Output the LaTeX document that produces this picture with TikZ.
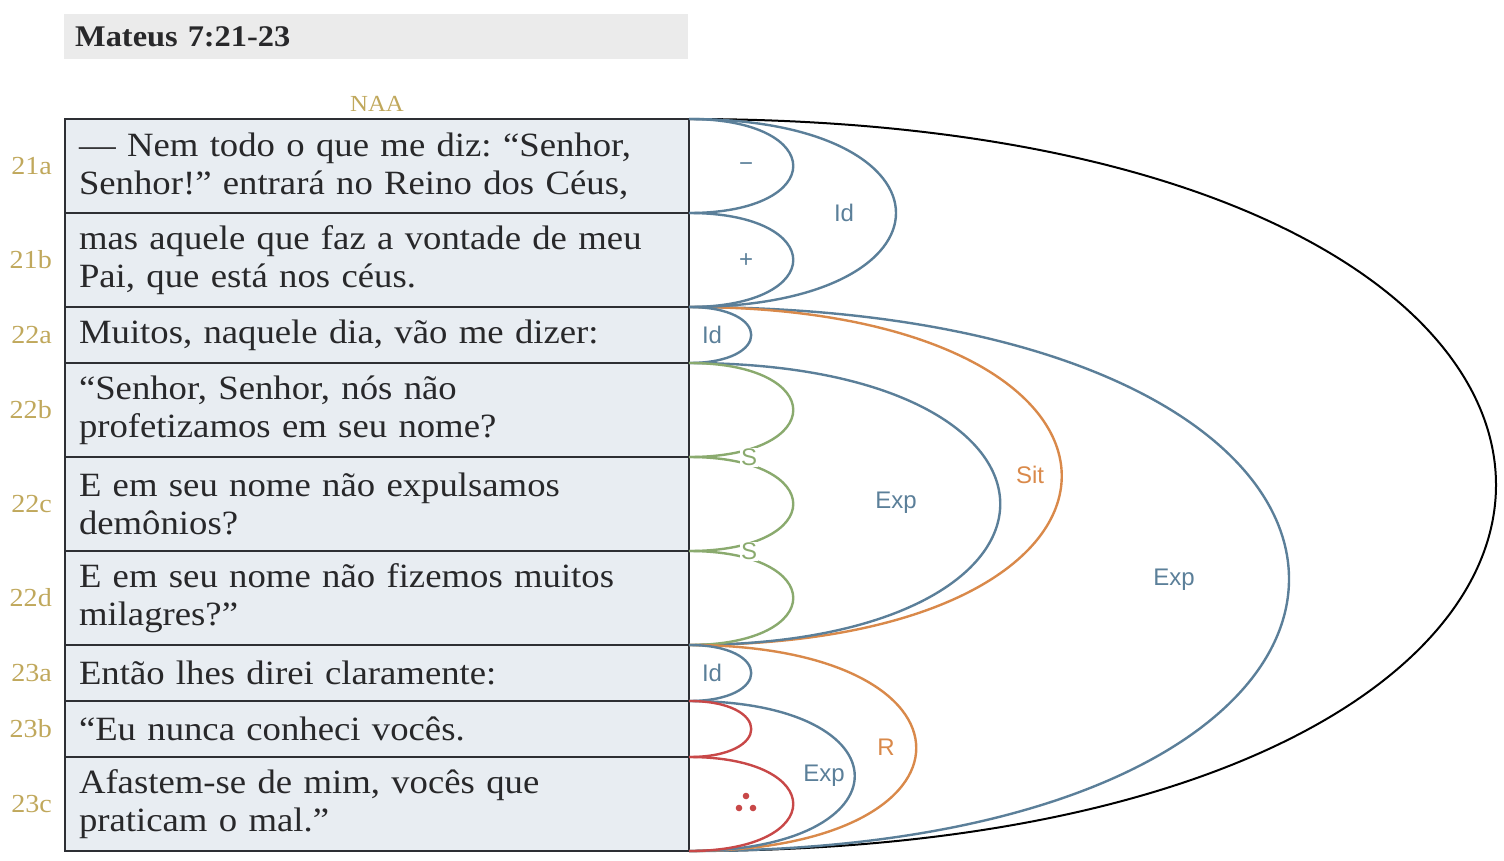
\documentclass[tikz,border=0pt]{standalone}
\usepackage{fontspec}
\setmainfont{Liberation Serif}[FakeStretch=1.08]
\setsansfont{Liberation Sans}
\usetikzlibrary{positioning}
\frenchspacing

\begin{document}
\begin{tikzpicture}[x=1pt, y=-1pt,
  row/.style={draw=tabline, fill=rowfill, line width=2pt, outer sep=0pt, minimum width=624pt,
    text width=596pt, inner xsep=14pt, inner ysep=0pt, align=left, text=ink, font=\fontsize{34}{38}\selectfont},
  tall/.style={row, minimum height=94pt},
  short/.style={row, minimum height=56pt},
  vlabel/.style={text=gold, inner sep=0pt, font=\fontsize{26}{26}\selectfont},
  arcline/.style={line width=2.4pt},
  lab/.style={inner sep=1pt, font=\sffamily\fontsize{24}{24}\selectfont}]
  \definecolor{tabline}{RGB}{45,47,52}
  \definecolor{rowfill}{RGB}{232,237,242}
  \definecolor{ink}{RGB}{40,40,42}
  \definecolor{gold}{RGB}{192,168,92}
  \definecolor{slate}{RGB}{91,127,153}
  \definecolor{amber}{RGB}{217,137,74}
  \definecolor{sage}{RGB}{138,170,110}
  \definecolor{brick}{RGB}{200,72,72}
  \useasboundingbox (0,0) rectangle (1504,860);
  % title bar
  \node[fill=black!8, anchor=north west, minimum width=624pt, minimum height=45pt, text width=602pt,
    inner xsep=11pt, align=left, text=ink, font=\bfseries\fontsize{30}{30}\selectfont] (title) at (64,14) {Mateus 7:21-23};
  % verse table
  \node[tall, anchor=north west] (r21a) at (65,119) {— Nem todo o que me diz: “Senhor,\\ Senhor!” entrará no Reino dos Céus,};
  \node[tall, below=0pt of r21a] (r21b) {mas aquele que faz a vontade de meu\\ Pai, que está nos céus.};
  \node[short, below=0pt of r21b] (r22a) {Muitos, naquele dia, vão me dizer:};
  \node[tall, below=0pt of r22a] (r22b) {“Senhor, Senhor, nós não\\ profetizamos em seu nome?};
  \node[tall, below=0pt of r22b] (r22c) {E em seu nome não expulsamos\\ demônios?};
  \node[tall, below=0pt of r22c] (r22d) {E em seu nome não fizemos muitos\\ milagres?”};
  \node[short, below=0pt of r22d] (r23a) {Então lhes direi claramente:};
  \node[short, below=0pt of r23a] (r23b) {“Eu nunca conheci vocês.};
  \node[tall, below=0pt of r23b] (r23c) {Afastem-se de mim, vocês que\\ praticam o mal.”};
  \node[vlabel, above=7pt of r21a, font=\fontsize{23}{23}\selectfont] (naa) {NAA};
  \node[vlabel, left=13pt of r21a] (v21a) {21a};
  \node[vlabel, left=13pt of r21b] (v21b) {21b};
  \node[vlabel, left=13pt of r22a] (v22a) {22a};
  \node[vlabel, left=13pt of r22b] (v22b) {22b};
  \node[vlabel, left=13pt of r22c] (v22c) {22c};
  \node[vlabel, left=13pt of r22d] (v22d) {22d};
  \node[vlabel, left=13pt of r23a] (v23a) {23a};
  \node[vlabel, left=13pt of r23b] (v23b) {23b};
  \node[vlabel, left=13pt of r23c] (v23c) {23c};
  % arcs
  \draw[black, line width=2pt] (r21a.north east) .. controls +(1076,0) and +(1076,0) .. (r23c.south east);
  \draw[arcline, slate] (r22a.north east) .. controls +(800,0) and +(800,0) .. (r23c.south east);
  \draw[arcline, amber] (r22a.north east) .. controls +(497,0) and +(497,0) .. (r22d.south east);
  \draw[arcline, slate] (r22b.north east) .. controls +(415,0) and +(415,0) .. (r22d.south east);
  \draw[arcline, slate] (r21a.north east) .. controls +(276,0) and +(276,0) .. (r21b.south east);
  \draw[arcline, slate] (r21a.north east) .. controls +(139,0) and +(139,0) .. (r21a.south east);
  \draw[arcline, slate] (r21b.north east) .. controls +(139,0) and +(139,0) .. (r21b.south east);
  \draw[arcline, slate] (r22a.north east) .. controls +(83,0) and +(83,0) .. (r22a.south east);
  \draw[arcline, sage] (r22b.north east) .. controls +(139,0) and +(139,0) .. (r22b.south east);
  \draw[arcline, sage] (r22c.north east) .. controls +(139,0) and +(139,0) .. (r22c.south east);
  \draw[arcline, sage] (r22d.north east) .. controls +(139,0) and +(139,0) .. (r22d.south east);
  \draw[arcline, amber] (r23a.north east) .. controls +(303,0) and +(303,0) .. (r23c.south east);
  \draw[arcline, slate] (r23b.north east) .. controls +(221,0) and +(221,0) .. (r23c.south east);
  \draw[arcline, slate] (r23a.north east) .. controls +(83,0) and +(83,0) .. (r23a.south east);
  \draw[arcline, brick] (r23b.north east) .. controls +(83,0) and +(83,0) .. (r23b.south east);
  \draw[arcline, brick] (r23c.north east) .. controls +(139,0) and +(139,0) .. (r23c.south east);
  % arc labels
  \node[lab, text=slate] (lneg) at (746,167) {−};
  \node[lab, text=slate] (lpos) at (746,261) {+};
  \node[lab, text=slate] (lid21) at (844,213) {Id};
  \node[lab, text=slate] (lid22) at (712,335) {Id};
  \node[lab, text=sage, fill=white] (ls1) at (749,457) {S};
  \node[lab, text=sage, fill=white] (ls2) at (749,551) {S};
  \node[lab, text=slate] (lexp22) at (896,503) {Exp};
  \node[lab, text=amber] (lsit) at (1030,475) {Sit};
  \node[lab, text=slate] (lexp) at (1174,580) {Exp};
  \node[lab, text=slate] (lid23) at (712,673) {Id};
  \node[lab, text=slate] (lexp23) at (824,776) {Exp};
  \node[lab, text=amber] (lr) at (886,747) {R};
  \fill[brick] (746,796) circle (3.3pt) (739,808) circle (3.3pt) (753,808) circle (3.3pt);
\end{tikzpicture}
\end{document}
